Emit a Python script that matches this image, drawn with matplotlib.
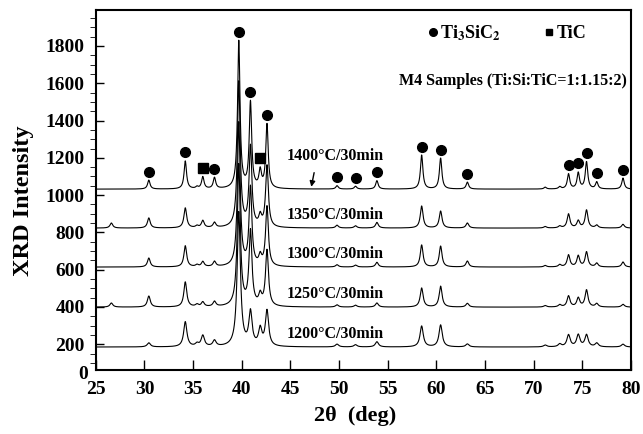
import numpy as np
import matplotlib
matplotlib.use("Agg")
import matplotlib.pyplot as plt
from matplotlib.lines import Line2D

plt.rcParams['font.family'] = ['Liberation Serif', 'DejaVu Serif']
plt.rcParams['font.weight'] = 'bold'
plt.rcParams['axes.labelweight'] = 'bold'
plt.rcParams['mathtext.fontset'] = 'stix'

# temperatures and vertical offset (baseline) of each pattern
labels = ['1400°C/30min', '1350°C/30min', '1300°C/30min', '1250°C/30min', '1200°C/30min']
baselines = [1032, 823, 614, 399, 185]

# peak positions (2theta, deg)
peak_pos = [26.6, 30.45, 34.2, 35.4, 36.0, 37.2, 39.7, 40.9, 41.9, 42.6,
            49.8, 51.7, 53.9, 58.5, 60.45, 63.2, 71.2, 72.7, 73.6, 74.6,
            75.45, 76.5, 79.2]

# peak heights above baseline, one list per pattern (same order as labels)
h1400 = [0, 48, 150, 10, 64, 59, 790, 460, 91, 343,
         18, 15, 45, 182, 166, 37, 10, 12, 80, 86, 145, 37, 59]
h1350 = [27, 54, 107, 10, 38, 27, 780, 430, 55, 330,
         15, 12, 30, 118, 91, 27, 8, 10, 75, 38, 96, 15, 20]
h1300 = [0, 48, 113, 10, 27, 27, 770, 420, 50, 320,
         12, 10, 25, 118, 112, 32, 8, 12, 64, 59, 80, 20, 27]
h1250 = [22, 59, 134, 12, 25, 27, 760, 400, 55, 300,
         12, 10, 22, 102, 112, 20, 8, 12, 59, 48, 91, 18, 15]
h1200 = [0, 22, 134, 15, 59, 32, 720, 180, 90, 190,
         15, 12, 28, 112, 118, 16, 10, 15, 64, 64, 64, 20, 15]
heights = [h1400, h1350, h1300, h1250, h1200]
widths = [0.15, 0.17, 0.17, 0.18, 0.2]   # peak half widths (deg)

# phase markers drawn over the 1400 C pattern
ti3sic2_pos = [30.45, 34.2, 37.2, 39.7, 40.9, 42.6, 49.8, 51.7, 53.9,
               58.5, 60.45, 63.2, 73.6, 74.6, 75.45, 76.5, 79.2]
tic_pos = [36.0, 41.9]

tt = np.arange(25, 80.001, 0.02)


def pattern(hs, w):
    y = np.zeros_like(tt)
    for p, h in zip(peak_pos, hs):
        y += h / (1 + ((tt - p) / w) ** 2)
    return y


fig = plt.figure(figsize=(6.43, 4.34), dpi=100)
ax = fig.add_axes([0.149, 0.1475, 0.832, 0.8295])

for base, hs, w in zip(baselines, heights, widths):
    ax.plot(tt, base + pattern(hs, w), color='black', lw=0.8)

# markers above the top pattern peaks
top = baselines[0] + pattern(h1400, widths[0])
off = 45
ax.plot(ti3sic2_pos, np.interp(ti3sic2_pos, tt, top) + off, 'o', color='black', ms=7)
ax.plot(tic_pos, np.interp(tic_pos, tt, top) + off, 's', color='black', ms=6.5)

# temperature labels
for i, (base, lab) in enumerate(zip(baselines, labels)):
    dy = 177 if i == 0 else 70
    ax.text(44.6, base + dy, lab, fontsize=11.5, va='center', ha='left')

ax.annotate('', xy=(47.1, 1030), xytext=(47.5, 1135),
            arrowprops=dict(arrowstyle='-|>', color='black', lw=1, mutation_scale=8))

ax.text(0.992, 0.803, 'M4 Samples (Ti:Si:TiC=1:1.15:2)', transform=ax.transAxes,
        fontsize=11.5, ha='right', va='center')

handles = [Line2D([], [], marker='o', ls='none', color='black', ms=5.5),
           Line2D([], [], marker='s', ls='none', color='black', ms=5)]
ax.legend(handles, [r'Ti$_\mathbf{3}$SiC$_\mathbf{2}$', 'TiC'], ncol=2, frameon=False,
          loc='center left', bbox_to_anchor=(0.589, 0.936), handletextpad=0.1,
          columnspacing=2.4, handlelength=0.6, borderpad=0.4,
          prop={'size': 13, 'weight': 'bold'})

ax.set_xlim(25, 80)
ax.set_ylim(62, 1993)
ax.set_xticks(np.arange(25, 81, 5))
ax.set_yticks(np.arange(200, 1801, 200))
ax.set_yticks(np.arange(100, 1951, 50), minor=True)
ax.tick_params(axis='both', direction='in', labelsize=14, width=1)
ax.tick_params(axis='x', length=7, pad=8, top=False)
ax.tick_params(axis='y', which='major', length=6, pad=8, right=False)
ax.tick_params(axis='y', which='minor', length=4, right=False)
ax.text(-0.024, -0.012, '0', transform=ax.transAxes, fontsize=14, ha='center', va='center')
for s in ax.spines.values():
    s.set_linewidth(1.5)

ax.set_xlabel('2θ  (deg)', fontsize=16)
ax.set_ylabel('XRD Intensity', fontsize=17.5)
ax.xaxis.set_label_coords(0.484, -0.1)
ax.yaxis.set_label_coords(-0.115, 0.47)

fig.savefig('out.png', dpi=100)
